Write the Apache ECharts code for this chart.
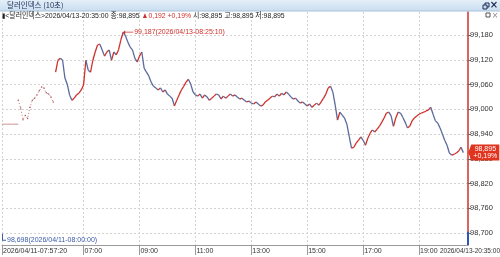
<!DOCTYPE html>
<html>
<head>
<meta charset="utf-8">
<script src="https://cdn.jsdelivr.net/npm/echarts@6/dist/echarts.min.js"></script>
<style>html,body{margin:0;padding:0;background:#fff}#c{width:500px;height:257px}</style>
</head>
<body>
<div id="c"></div>
<script>
// ---- data ----
const titleText = '달러인덱스 (10초)';
const infoName = '<달러인덱스>';
const infoTime = '2026/04/13-20:35:00';
const closeVal = 98.895, changeVal = 0.192, pctVal = 0.19;
const openVal = 98.895, highVal = 98.895, lowVal = 98.895;
const prevClose = 98.703;
const firstLabel = '2026/04/11-07:57:20';
const lastLabel = '2026/04/13-20:35:00';
const tickTimes = ['07:00','09:00','11:00','13:00','15:00','17:00','19:00'];
const yTicks = [98.70, 98.76, 98.82, 98.88, 98.94, 99.00, 99.06, 99.12, 99.18];
const peak = {idx: 52, value: 99.187, time: '2026/04/13-08:25:10'};
const trough = {idx: 0, value: 98.698, time: '2026/04/11-08:00:00'};
// categories: 5-minute slots 04:05 .. 20:45
const startMin = 4*60+5, endMin = 20*60+45, stepMin = 5;
const categories = [];
for (let m = startMin; m <= endMin; m += stepMin) {
  categories.push(String(Math.floor(m/60)).padStart(2,'0') + ':' + String(m%60).padStart(2,'0'));
}
const flatValues = [98.964, 98.964, 98.964, 98.964, 98.964, 98.964, 98.964, 98.964];
const preStart = 7;
const preValues = [99.022, 99.003, 98.975, 98.985, 98.978, 99.005, 99.022, 99.027, 99.035, 99.045, 99.054, 99.052, 99.040, 99.037, 99.030, 99.018];
const mainStart = 23;
const mainValues = [
99.090,99.119,99.124,99.119,99.076,99.061,99.035,99.022,99.027,99.035,
99.039,99.047,99.059,99.119,99.095,99.090,99.119,99.139,99.156,99.158,
99.144,99.129,99.139,99.144,99.119,99.139,99.132,99.144,99.168,99.187,
99.178,99.163,99.151,99.144,99.124,99.115,99.129,99.139,99.100,99.090,
99.081,99.066,99.056,99.052,99.047,99.052,99.042,99.047,99.037,99.032,
99.027,99.008,99.022,99.035,99.047,99.056,99.066,99.073,99.061,99.042,
99.035,99.032,99.037,99.027,99.035,99.030,99.022,99.027,99.032,99.037,
99.035,99.025,99.032,99.027,99.032,99.037,99.032,99.035,99.030,99.025,
99.027,99.022,99.018,99.020,99.015,99.013,99.018,99.013,99.008,99.010,
99.018,99.022,99.027,99.032,99.030,99.037,99.032,99.039,99.035,99.042,
99.037,99.030,99.025,99.027,99.020,99.015,99.018,99.013,99.008,99.013,
99.005,99.010,99.015,99.010,99.018,99.027,99.037,99.052,99.056,99.042,
99.010,98.974,98.993,98.986,98.979,98.964,98.935,98.906,98.908,98.918,
98.925,98.933,98.925,98.913,98.930,98.942,98.950,98.945,98.952,98.959,
98.969,98.979,98.991,98.993,98.984,98.959,98.979,98.993,98.991,98.981,
98.969,98.955,98.959,98.972,98.979,98.984,98.988,98.991,98.993,98.996,
98.998,99.005,98.988,98.972,98.967,98.955,98.940,98.925,98.913,98.894,
98.889,98.891,98.894,98.899,98.908,98.895
];

// ---- helpers ----
const fmt3 = v => v.toFixed(3).replace('.', ',');
const fmt2 = v => v.toFixed(2).replace('.', ',');
const FONT = "'Liberation Sans','Noto Sans CJK KR',sans-serif";
const UP = '#d0302a', DOWN = '#5b6a9c';

const flatData = flatValues.map((v, k) => [k, v]);
const preData = preValues.map((v, k) => [preStart + k, v]);
const segData = [];
for (let k = 1; k < mainValues.length; k++) {
  segData.push([mainStart + k, mainValues[k-1], mainValues[k]]);
}
const lastIdx = mainStart + mainValues.length - 1;
const axisEndIdx = categories.length - 1;
const showIdx = (index, value) => index === 0 || tickTimes.includes(value);

const chart = echarts.init(document.getElementById('c'), null, {renderer: 'canvas'});
chart.setOption({
  animation: false,
  backgroundColor: '#ffffff',
  grid: {left: 1, right: 32, top: 12, bottom: 12, containLabel: false},
  xAxis: {
    type: 'category',
    data: categories,
    boundaryGap: false,
    axisLine: {show: true, lineStyle: {color: '#9a9a9a', width: 1}},
    axisTick: {show: true, interval: showIdx, length: 10, lineStyle: {color: '#9a9a9a'}},
    axisLabel: {
      interval: showIdx, align: 'left', margin: 3, padding: [0,0,0,1],
      fontSize: 7, fontFamily: FONT, color: '#333',
      formatter: (v, i) => i === 0 ? firstLabel : v
    },
    splitLine: {show: true, interval: showIdx, lineStyle: {color: '#d2d2d2', type: [2, 2], width: 1}}
  },
  yAxis: {
    type: 'value', position: 'right', scale: true,
    min: 98.671, max: 99.236,
    axisLine: {show: true, lineStyle: {color: UP, width: 1.5}},
    axisTick: {show: true, length: 3, customValues: yTicks, lineStyle: {color: '#666'}},
    axisLabel: {customValues: yTicks, margin: 2, fontSize: 7.5, fontFamily: FONT, color: '#333', formatter: v => fmt3(v)},
    splitLine: {show: true, lineStyle: {color: '#d2d2d2', type: [2, 2], width: 1}}
  },
  series: [
    {
      type: 'line', name: 'flat', data: flatData, symbol: 'none',
      lineStyle: {color: '#c89090', width: 1}, z: 3,
      markPoint: {
        silent: true,
        data: [
          {
            coord: [peak.idx, peak.value],
            symbol: 'path://M0,5 L6,2 L6,4.5 L30,4.5 L30,5.5 L6,5.5 L6,8 Z',
            symbolSize: [10, 4], symbolKeepAspect: false, symbolOffset: [5, 0],
            itemStyle: {color: UP},
            label: {show: true, position: 'right', distance: 1, color: UP, fontSize: 7, fontFamily: FONT,
              formatter: fmt3(peak.value) + '(' + peak.time + ')'}
          },
          {
            coord: [trough.idx, trough.value],
            symbol: 'path://M0,0 L1,0 L1,6 L4,6 L4,7 L0,7 Z',
            symbolSize: [4, 7], symbolKeepAspect: false, symbolOffset: [2, 3.5],
            itemStyle: {color: '#3b5ba8'},
            label: {show: true, position: [5, 6.5], align: 'left', verticalAlign: 'middle', color: '#3b5ba8', fontSize: 7, fontFamily: FONT,
              formatter: fmt3(trough.value) + '(' + trough.time + ')'}
          },
          {
            coord: [lastIdx, closeVal],
            symbol: 'path://M0,8 L3,0 L32,0 L32,16 L3,16 Z',
            symbolSize: [31, 16], symbolKeepAspect: false, symbolOffset: [20.5, 0],
            itemStyle: {color: '#e0341f'},
            label: {show: true, position: 'inside', offset: [1.5, 0], color: '#fff', fontSize: 7, lineHeight: 7.5, fontFamily: FONT,
              formatter: fmt3(closeVal) + '\n+' + fmt2(pctVal) + '%'}
          }
        ]
      },
      markLine: {
        silent: true, symbol: 'none', animation: false,
        lineStyle: {color: '#2f55b8', width: 2, type: 'solid'},
        label: {show: false},
        data: [[{coord: [axisEndIdx, 98.671]}, {coord: [axisEndIdx, prevClose]}]]
      }
    },
    {
      type: 'line', name: 'pre', data: preData, symbol: 'circle', symbolSize: 1.5,
      itemStyle: {color: '#b85a5a'},
      lineStyle: {color: '#c07a7a', width: 1, type: [1, 2]}, z: 3
    },
    {
      type: 'custom', name: 'main', data: segData, clip: true, z: 4,
      encode: {x: 0, y: [1, 2]},
      renderItem: (params, api) => {
        const i = api.value(0), a = api.value(1), b = api.value(2);
        const p0 = api.coord([i - 1, a]);
        const p1 = api.coord([i, b]);
        return {type: 'line', shape: {x1: p0[0], y1: p0[1], x2: p1[0], y2: p1[1]},
          style: {stroke: b >= a ? UP : DOWN, lineWidth: 1.3}};
      }
    }
  ],
  graphic: [
    {type: 'rect', shape: {x: 0, y: 0, width: 500, height: 11}, z: 100,
      style: {fill: new echarts.graphic.LinearGradient(0, 0, 0, 1, [{offset: 0, color: '#e4eff8'}, {offset: 1, color: '#cadef0'}])}},
    {type: 'line', shape: {x1: 0, y1: 11, x2: 500, y2: 11}, z: 100, style: {stroke: '#a9c2da', lineWidth: 1}},
    {type: 'text', x: 7, y: 5.5, z: 101, style: {text: titleText, fill: '#1b2c55', fontSize: 7.5, fontFamily: "'Noto Sans CJK KR',sans-serif", verticalAlign: 'middle'}},
    {type: 'rect', shape: {x: 485, y: 3, width: 4, height: 4}, z: 101, style: {fill: 'none', stroke: '#1b2c55', lineWidth: 1}},
    {type: 'rect', shape: {x: 483, y: 5, width: 4, height: 4}, z: 101, style: {fill: '#cadef0', stroke: '#1b2c55', lineWidth: 1}},
    {type: 'text', x: 494, y: 5.5, z: 101, style: {text: '×', fill: '#1b2c55', fontSize: 10, fontWeight: 'bold', fontFamily: 'DejaVu Sans', align: 'center', verticalAlign: 'middle'}},
    {type: 'text', x: 2, y: 16, scaleX: 0.86, z: 101, style: {
      text: '{b|▮}{k|' + infoName + infoTime + ' 종:' + fmt3(closeVal) + ' }{r|▲' + fmt3(changeVal) + ' +' + fmt2(pctVal) + '%}{k| 시:' + fmt3(openVal) + ' 고:' + fmt3(highVal) + ' 저:' + fmt3(lowVal) + '}',
      verticalAlign: 'middle',
      rich: {
        b: {fontSize: 7, fill: '#222', fontFamily: 'DejaVu Sans'},
        k: {fontSize: 8, fill: '#222', fontFamily: FONT},
        r: {fontSize: 8, fill: UP, fontFamily: FONT}
      }}},
    {type: 'rect', shape: {x: 486, y: 13, width: 4, height: 4}, z: 101, style: {fill: 'none', stroke: '#555', lineWidth: 1}},
    {type: 'text', x: 495, y: 15.5, z: 101, style: {text: '×', fill: '#888', fontSize: 8, fontFamily: 'DejaVu Sans', align: 'center', verticalAlign: 'middle'}},
    {type: 'text', x: 500, y: 251, z: 101, style: {text: lastLabel, fill: '#333', fontSize: 6.5, fontFamily: FONT, align: 'right', verticalAlign: 'middle'}}
  ]
});
</script>
</body>
</html>
